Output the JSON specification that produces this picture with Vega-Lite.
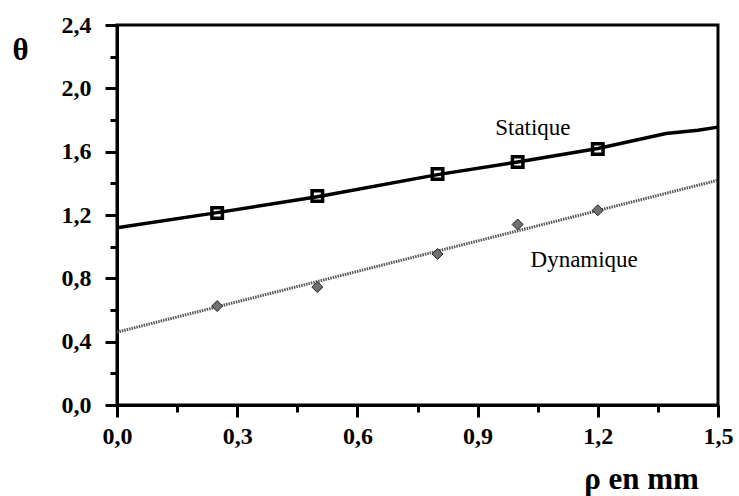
{
  "$schema": "https://vega.github.io/schema/vega-lite/v6.json",
  "autosize": "none",
  "width": 601,
  "height": 380,
  "padding": {"left": 117, "top": 25, "right": 21, "bottom": 91},
  "background": "white",
  "config": {
    "view": {"stroke": "black", "strokeWidth": 3},
    "axis": {"grid": false, "domainColor": "black", "tickColor": "black", "labelColor": "black", "titleColor": "black"}
  },
  "datasets": {
    "stat_line": [
      {"rho": 0.0, "theta": 1.12},
      {"rho": 0.25, "theta": 1.215},
      {"rho": 0.5, "theta": 1.315},
      {"rho": 0.8, "theta": 1.455},
      {"rho": 1.0, "theta": 1.535},
      {"rho": 1.2, "theta": 1.62},
      {"rho": 1.37, "theta": 1.715},
      {"rho": 1.45, "theta": 1.735},
      {"rho": 1.5, "theta": 1.755}
    ],
    "dyn_line": [
      {"rho": 0.0, "theta": 0.46},
      {"rho": 0.25, "theta": 0.62},
      {"rho": 0.5, "theta": 0.78},
      {"rho": 0.75, "theta": 0.94},
      {"rho": 1.0, "theta": 1.10},
      {"rho": 1.25, "theta": 1.26},
      {"rho": 1.5, "theta": 1.42}
    ],
    "stat_pts": [
      {"rho": 0.25, "theta": 1.213},
      {"rho": 0.5, "theta": 1.32},
      {"rho": 0.8, "theta": 1.459},
      {"rho": 1.0, "theta": 1.535},
      {"rho": 1.2, "theta": 1.617}
    ],
    "dyn_pts": [
      {"rho": 0.25, "theta": 0.625},
      {"rho": 0.5, "theta": 0.745},
      {"rho": 0.8, "theta": 0.954},
      {"rho": 1.0, "theta": 1.14},
      {"rho": 1.2, "theta": 1.23}
    ],
    "labels": [
      {"rho": 1.038, "theta": 1.749, "label": "Statique"},
      {"rho": 1.166, "theta": 0.916, "label": "Dynamique"}
    ]
  },
  "layer": [
    {
      "data": {"name": "stat_line"},
      "mark": {"type": "line", "color": "black", "strokeWidth": 3.5},
      "encoding": {
        "x": {
          "field": "rho", "type": "quantitative",
          "scale": {"domain": [0, 1.5], "nice": false, "zero": false},
          "axis": {
            "orient": "bottom",
            "values": [0, 0.3, 0.6, 0.9, 1.2, 1.5],
            "labelExpr": "replace(format(datum.value, '.1f'), '.', ',')",
            "tickSize": 12, "tickWidth": 3, "domainWidth": 3,
            "labelFont": "Liberation Serif", "labelFontWeight": "bold", "labelFontSize": 24,
            "labelPadding": 7, "labelFlush": false,
            "title": "ρ  en mm",
            "titleFont": "Liberation Serif", "titleFontWeight": "bold", "titleFontSize": 31,
            "titleX": 524, "titleY": 83, "titleAlign": "center", "titleBaseline": "alphabetic"
          }
        },
        "y": {
          "field": "theta", "type": "quantitative",
          "scale": {"domain": [0, 2.4], "nice": false, "zero": false},
          "axis": {
            "orient": "left",
            "values": [0, 0.4, 0.8, 1.2, 1.6, 2.0, 2.4],
            "labelExpr": "replace(format(datum.value, '.1f'), '.', ',')",
            "tickSize": 12, "tickWidth": 3, "domainWidth": 3,
            "labelFont": "Liberation Serif", "labelFontWeight": "bold", "labelFontSize": 24,
            "labelPadding": 14, "labelFlush": false,
            "title": "θ", "titleAngle": 0,
            "titleFont": "Liberation Serif", "titleFontWeight": "bold", "titleFontSize": 31,
            "titleX": -97, "titleY": 25, "titleAlign": "center", "titleBaseline": "middle"
          }
        }
      }
    },
    {
      "data": {"name": "dyn_line"},
      "mark": {"type": "line", "color": "#555555", "strokeWidth": 3, "strokeDash": [1.5, 1]},
      "encoding": {
        "x": {"field": "rho", "type": "quantitative", "axis": null},
        "y": {"field": "theta", "type": "quantitative", "axis": null}
      }
    },
    {
      "data": {"name": "stat_pts"},
      "mark": {"type": "point", "shape": "square", "filled": false, "stroke": "black", "strokeWidth": 3.5, "size": 110, "opacity": 1},
      "encoding": {
        "x": {
          "field": "rho", "type": "quantitative",
          "axis": {
            "orient": "bottom",
            "values": [0.15, 0.45, 0.75, 1.05, 1.35],
            "labels": false, "domain": false, "tickSize": 7, "tickWidth": 3, "title": null
          }
        },
        "y": {
          "field": "theta", "type": "quantitative",
          "axis": {
            "orient": "left",
            "values": [0.2, 0.6, 1.0, 1.4, 1.8, 2.2],
            "labels": false, "domain": false, "tickSize": 7, "tickWidth": 3, "title": null
          }
        }
      }
    },
    {
      "data": {"name": "dyn_pts"},
      "mark": {"type": "point", "shape": "diamond", "filled": true, "color": "#707070", "stroke": "#222222", "strokeWidth": 1, "size": 120, "opacity": 1},
      "encoding": {
        "x": {"field": "rho", "type": "quantitative", "axis": null},
        "y": {"field": "theta", "type": "quantitative", "axis": null}
      }
    },
    {
      "data": {"name": "labels"},
      "mark": {"type": "text", "font": "Liberation Serif", "fontSize": 23, "color": "black", "align": "center", "baseline": "middle"},
      "encoding": {
        "x": {"field": "rho", "type": "quantitative", "axis": null},
        "y": {"field": "theta", "type": "quantitative", "axis": null},
        "text": {"field": "label"}
      }
    }
  ],
  "resolve": {"axis": {"x": "independent", "y": "independent"}}
}
